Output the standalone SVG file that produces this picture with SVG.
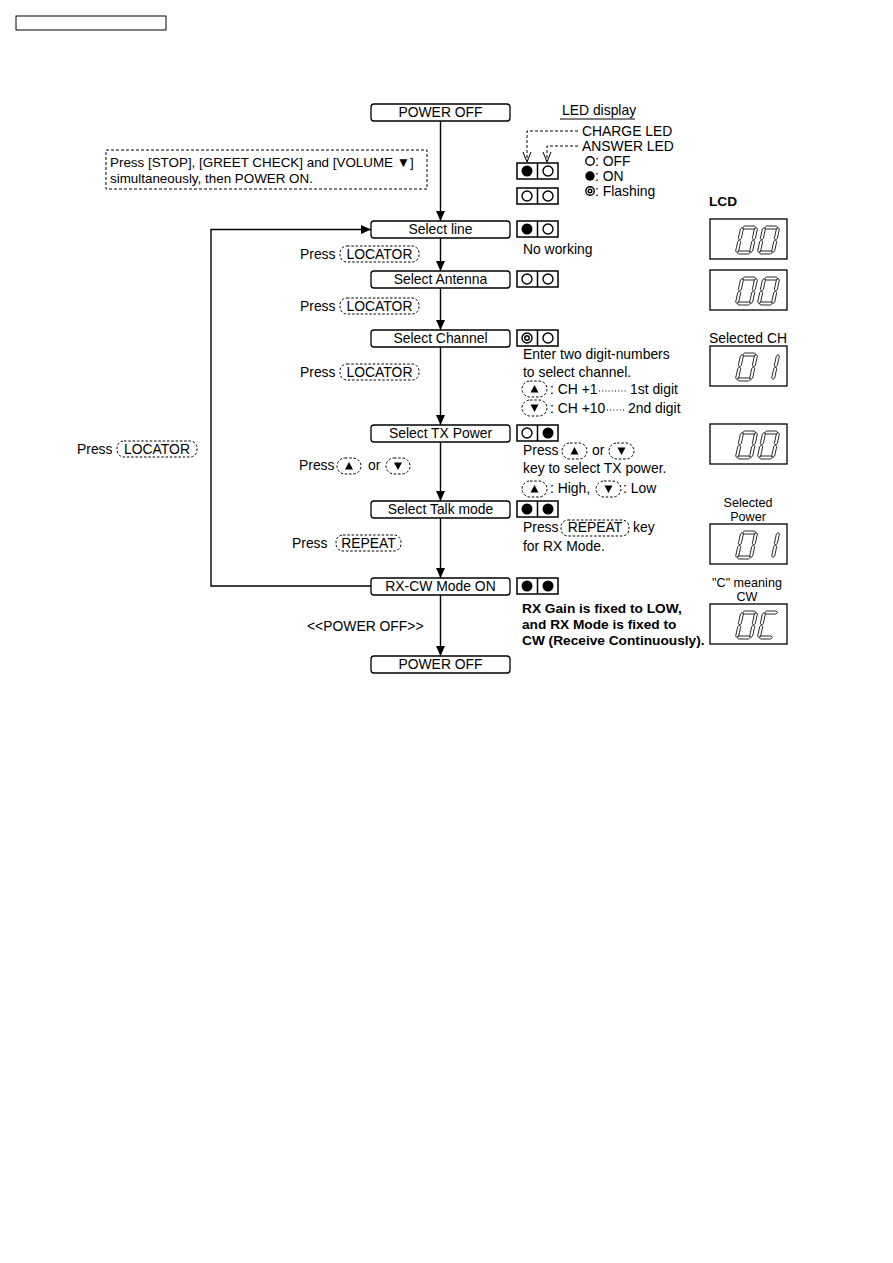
<svg xmlns="http://www.w3.org/2000/svg" xmlns:xlink="http://www.w3.org/1999/xlink" width="893" height="1263" viewBox="0 0 893 1263">
<style>
.t{font-family:"Liberation Sans",Arial,sans-serif;font-size:13.9px;fill:#000}
.m{text-anchor:middle}
.b{font-weight:bold;font-size:13.7px}
.s{font-size:12.6px}
.box{fill:#fff;stroke:#000;stroke-width:1.3}
.led{fill:#fff;stroke:#000;stroke-width:1.5}
.cap{fill:none;stroke:#000;stroke-width:1;stroke-dasharray:2.5,1.8}
.ln{fill:none;stroke:#000;stroke-width:1.4}
.dl{fill:none;stroke:#000;stroke-width:1;stroke-dasharray:3,2}
.lcd{fill:#fff;stroke:#000;stroke-width:1.3}
.seg{fill:#fff;stroke:#000;stroke-width:0.8}
.oc{fill:#fff;stroke:#000;stroke-width:1.4}
.fc{fill:#000}
</style>
<defs>
<marker id="ah" markerUnits="userSpaceOnUse" markerWidth="10" markerHeight="10" refX="10" refY="5" orient="auto">
<path d="M0,0.5 L10,5 L0,9.5 z" fill="#000"/>
</marker>
<polygon id="h" class="seg" points="2,1.5 3.5,0 13.5,0 15,1.5 13.5,3 3.5,3"/>
<polygon id="v" class="seg" points="1.5,0 3,1.5 3,11 1.5,12.5 0,11 0,1.5"/>
<g id="d0"><use xlink:href="#h"/><use xlink:href="#v" x="0" y="1.5"/><use xlink:href="#v" x="14" y="1.5"/><use xlink:href="#v" x="0" y="14"/><use xlink:href="#v" x="14" y="14"/><use xlink:href="#h" y="25"/></g>
<g id="d1"><use xlink:href="#v" x="14" y="1.5"/><use xlink:href="#v" x="14" y="14"/></g>
<g id="dC"><use xlink:href="#h"/><use xlink:href="#v" x="0" y="1.5"/><use xlink:href="#v" x="0" y="14"/><use xlink:href="#h" y="25"/></g>
<path id="up" d="M-4,3.5 L0,-4 L4,3.5 z" fill="#000"/>
<path id="dn" d="M-4,-3.5 L0,4 L4,-3.5 z" fill="#000"/>
</defs>
<rect width="893" height="1263" fill="#fff"/>
<rect x="16" y="16" width="150" height="14" fill="none" stroke="#000" stroke-width="1"/>

<g id="connectors">
<line class="ln" x1="440.5" y1="121" x2="440.5" y2="221" marker-end="url(#ah)"/>
<line class="ln" x1="440.5" y1="238" x2="440.5" y2="271" marker-end="url(#ah)"/>
<line class="ln" x1="440.5" y1="288" x2="440.5" y2="330" marker-end="url(#ah)"/>
<line class="ln" x1="440.5" y1="347" x2="440.5" y2="425" marker-end="url(#ah)"/>
<line class="ln" x1="440.5" y1="442" x2="440.5" y2="501" marker-end="url(#ah)"/>
<line class="ln" x1="440.5" y1="518" x2="440.5" y2="578" marker-end="url(#ah)"/>
<line class="ln" x1="440.5" y1="595" x2="440.5" y2="656" marker-end="url(#ah)"/>
<polyline class="ln" points="371,586 211,586 211,229.5 371,229.5" marker-end="url(#ah)"/>
</g>

<g id="n-poweroff1"><rect class="box" x="371" y="104" width="139" height="17" rx="3"/><text class="t m" x="440.5" y="117">POWER OFF</text></g>
<g id="n-selectline"><rect class="box" x="371" y="221" width="139" height="17" rx="3"/><text class="t m" x="440.5" y="234">Select line</text></g>
<g id="n-antenna"><rect class="box" x="371" y="271" width="139" height="17" rx="3"/><text class="t m" x="440.5" y="284">Select Antenna</text></g>
<g id="n-channel"><rect class="box" x="371" y="330" width="139" height="17" rx="3"/><text class="t m" x="440.5" y="343">Select Channel</text></g>
<g id="n-txpower"><rect class="box" x="371" y="425" width="139" height="17" rx="3"/><text class="t m" x="440.5" y="438">Select TX Power</text></g>
<g id="n-talkmode"><rect class="box" x="371" y="501" width="139" height="17" rx="3"/><text class="t m" x="440.5" y="514">Select Talk mode</text></g>
<g id="n-rxcw"><rect class="box" x="371" y="578" width="139" height="17" rx="3"/><text class="t m" x="440.5" y="591">RX-CW Mode ON</text></g>
<g id="n-poweroff2"><rect class="box" x="371" y="656" width="139" height="17" rx="3"/><text class="t m" x="440.5" y="669">POWER OFF</text></g>

<g id="n-startnote">
<rect x="106" y="150" width="321" height="39" fill="none" stroke="#000" stroke-width="1" stroke-dasharray="3,2"/>
<text class="t" x="110" y="167" style="font-size:13.4px">Press [STOP], [GREET CHECK] and [VOLUME ▼]</text>
<text class="t" x="110" y="183" style="font-size:13.4px">simultaneously, then POWER ON.</text>
</g>

<g id="labels-left">
<text class="t" x="300" y="259">Press</text><rect class="cap" x="340" y="246" width="79" height="16" rx="7"/><text class="t m" x="379.5" y="259">LOCATOR</text>
<text class="t" x="300" y="311">Press</text><rect class="cap" x="340" y="298" width="79" height="16" rx="7"/><text class="t m" x="379.5" y="311">LOCATOR</text>
<text class="t" x="300" y="377">Press</text><rect class="cap" x="340" y="364" width="79" height="16" rx="7"/><text class="t m" x="379.5" y="377">LOCATOR</text>
<text class="t" x="77" y="454">Press</text><rect class="cap" x="117" y="441" width="80" height="16" rx="7"/><text class="t m" x="157" y="454">LOCATOR</text>
<text class="t" x="299" y="470">Press</text><rect class="cap" x="337" y="458" width="24" height="16" rx="8"/><use xlink:href="#up" x="349" y="466"/>
<text class="t" x="368" y="470">or</text><rect class="cap" x="386" y="458" width="24" height="16" rx="8"/><use xlink:href="#dn" x="398" y="466"/>
<text class="t" x="292" y="548">Press</text><rect class="cap" x="336" y="535" width="65" height="16" rx="7"/><text class="t m" x="368.5" y="548">REPEAT</text>
<text class="t" x="307" y="631">&lt;&lt;POWER OFF&gt;&gt;</text>
</g>

<g id="led-legend">
<text class="t" x="562" y="115">LED display</text>
<line x1="560" y1="119" x2="635" y2="119" stroke="#000" stroke-width="1"/>
<text class="t" x="582" y="136">CHARGE LED</text>
<text class="t" x="582" y="151">ANSWER LED</text>
<polyline class="dl" points="578,131 527,131 527,161"/>
<polyline class="dl" points="578,146 547,146 547,161"/>
<polyline fill="none" stroke="#000" stroke-width="1" points="523,152 527,162 531,152"/>
<polyline fill="none" stroke="#000" stroke-width="1" points="543,152 547,162 551,152"/>
<circle class="oc" cx="590" cy="161" r="4.2"/><text class="t" x="595" y="166">: OFF</text>
<circle class="fc" cx="590" cy="176" r="4.7"/><text class="t" x="595" y="181">: ON</text>
<circle class="oc" cx="590" cy="191" r="4.2"/><circle class="oc" cx="590" cy="191" r="1.8" stroke-width="1"/><text class="t" x="595" y="196">: Flashing</text>
</g>

<g id="leds">
<g><rect class="led" x="517" y="163" width="41" height="16"/><line x1="537.5" y1="163" x2="537.5" y2="179" stroke="#000" stroke-width="1.5"/><circle class="fc" cx="527" cy="171" r="5.5"/><circle class="oc" cx="548" cy="171" r="5"/></g>
<g><rect class="led" x="517" y="188" width="41" height="16"/><line x1="537.5" y1="188" x2="537.5" y2="204" stroke="#000" stroke-width="1.5"/><circle class="oc" cx="527" cy="196" r="5"/><circle class="oc" cx="548" cy="196" r="5"/></g>
<g><rect class="led" x="517" y="221" width="41" height="16"/><line x1="537.5" y1="221" x2="537.5" y2="237" stroke="#000" stroke-width="1.5"/><circle class="fc" cx="527" cy="229" r="5.5"/><circle class="oc" cx="548" cy="229" r="5"/></g>
<g><rect class="led" x="517" y="271" width="41" height="16"/><line x1="537.5" y1="271" x2="537.5" y2="287" stroke="#000" stroke-width="1.5"/><circle class="oc" cx="527" cy="279" r="5"/><circle class="oc" cx="548" cy="279" r="5"/></g>
<g><rect class="led" x="517" y="330" width="41" height="16"/><line x1="537.5" y1="330" x2="537.5" y2="346" stroke="#000" stroke-width="1.5"/><circle class="oc" cx="527" cy="338" r="5"/><circle class="oc" cx="527" cy="338" r="2.2" stroke-width="1"/><circle class="oc" cx="548" cy="338" r="5"/></g>
<g><rect class="led" x="517" y="425" width="41" height="16"/><line x1="537.5" y1="425" x2="537.5" y2="441" stroke="#000" stroke-width="1.5"/><circle class="oc" cx="527" cy="433" r="5"/><circle class="fc" cx="548" cy="433" r="5.5"/></g>
<g><rect class="led" x="517" y="501" width="41" height="16"/><line x1="537.5" y1="501" x2="537.5" y2="517" stroke="#000" stroke-width="1.5"/><circle class="fc" cx="527" cy="509" r="5.5"/><circle class="fc" cx="548" cy="509" r="5.5"/></g>
<g><rect class="led" x="517" y="578" width="41" height="16"/><line x1="537.5" y1="578" x2="537.5" y2="594" stroke="#000" stroke-width="1.5"/><circle class="fc" cx="527" cy="586" r="5.5"/><circle class="fc" cx="548" cy="586" r="5.5"/></g>
</g>

<g id="notes-right">
<text class="t" x="523" y="254">No working</text>
<text class="t" x="523" y="359">Enter two digit-numbers</text>
<text class="t" x="523" y="377">to select channel.</text>
<rect class="cap" x="522" y="381" width="25" height="16" rx="8"/><use xlink:href="#up" x="534.5" y="389"/>
<text class="t" x="550" y="394">: CH +1</text>
<line x1="599" y1="391" x2="626" y2="391" stroke="#000" stroke-width="1" stroke-dasharray="1,2.2"/>
<text class="t" x="630" y="394">1st digit</text>
<rect class="cap" x="522" y="400" width="25" height="16" rx="8"/><use xlink:href="#dn" x="534.5" y="408"/>
<text class="t" x="550" y="413">: CH +10</text>
<line x1="607" y1="410" x2="625" y2="410" stroke="#000" stroke-width="1" stroke-dasharray="1,2.2"/>
<text class="t" x="628" y="413">2nd digit</text>
<text class="t" x="523" y="455">Press</text><rect class="cap" x="562" y="443" width="25" height="16" rx="8"/><use xlink:href="#up" x="574.5" y="451"/>
<text class="t" x="592" y="455">or</text><rect class="cap" x="609" y="443" width="25" height="16" rx="8"/><use xlink:href="#dn" x="621.5" y="451"/>
<text class="t" x="523" y="473">key to select TX power.</text>
<rect class="cap" x="522" y="481" width="25" height="16" rx="8"/><use xlink:href="#up" x="534.5" y="489"/>
<text class="t" x="550" y="493">: High,</text>
<rect class="cap" x="596" y="481" width="25" height="16" rx="8"/><use xlink:href="#dn" x="608.5" y="489"/>
<text class="t" x="623" y="493">: Low</text>
<text class="t" x="523" y="532">Press</text><rect class="cap" x="561" y="520" width="68" height="16" rx="7"/><text class="t m" x="595" y="532">REPEAT</text>
<text class="t" x="633" y="532">key</text>
<text class="t" x="523" y="551">for RX Mode.</text>
<text class="t b" x="522" y="613">RX Gain is fixed to LOW,</text>
<text class="t b" x="522" y="629">and RX Mode is fixed to</text>
<text class="t b" x="522" y="645">CW (Receive Continuously).</text>
</g>

<g id="lcd">
<text class="t b" x="709" y="206">LCD</text>
<rect class="lcd" x="710" y="219" width="77" height="40"/>
<use xlink:href="#d0" transform="translate(741,226) skewX(-12)"/><use xlink:href="#d0" transform="translate(763,226) skewX(-12)"/>
<rect class="lcd" x="710" y="270" width="77" height="40"/>
<use xlink:href="#d0" transform="translate(741,277) skewX(-12)"/><use xlink:href="#d0" transform="translate(763,277) skewX(-12)"/>
<text class="t m" x="748" y="343">Selected CH</text>
<rect class="lcd" x="710" y="346" width="77" height="40"/>
<use xlink:href="#d0" transform="translate(741,353) skewX(-12)"/><use xlink:href="#d1" transform="translate(763,353) skewX(-12)"/>
<rect class="lcd" x="710" y="424" width="77" height="40"/>
<use xlink:href="#d0" transform="translate(741,431) skewX(-12)"/><use xlink:href="#d0" transform="translate(763,431) skewX(-12)"/>
<text class="t s m" x="748" y="507">Selected</text>
<text class="t s m" x="748" y="521">Power</text>
<rect class="lcd" x="710" y="524" width="77" height="40"/>
<use xlink:href="#d0" transform="translate(741,531) skewX(-12)"/><use xlink:href="#d1" transform="translate(763,531) skewX(-12)"/>
<text class="t s m" x="747" y="587">"C" meaning</text>
<text class="t s m" x="747" y="601">CW</text>
<rect class="lcd" x="710" y="604" width="77" height="40"/>
<use xlink:href="#d0" transform="translate(741,611) skewX(-12)"/><use xlink:href="#dC" transform="translate(763,611) skewX(-12)"/>
</g>
</svg>
